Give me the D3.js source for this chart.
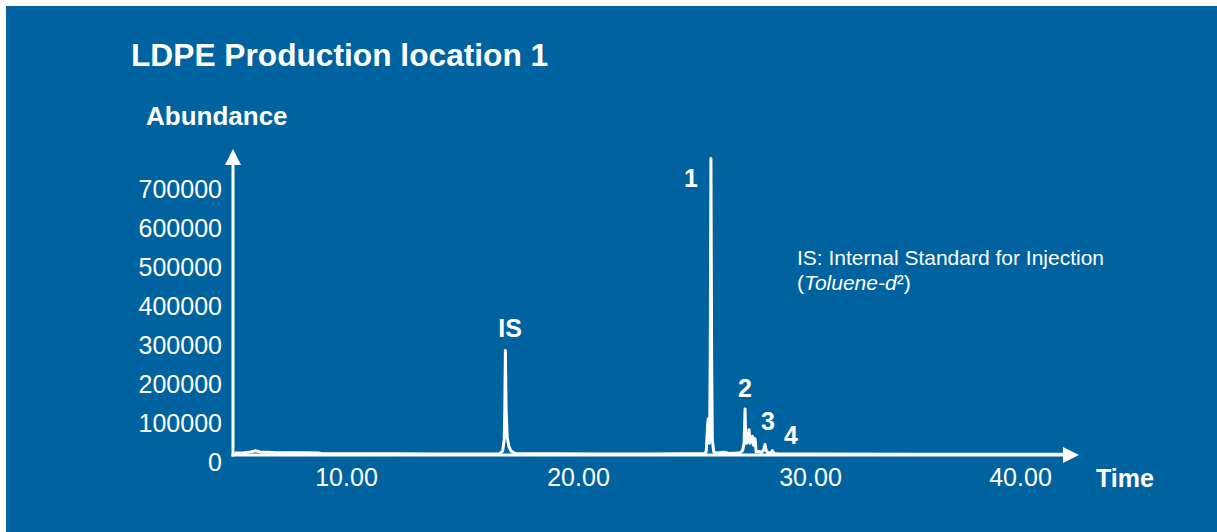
<!DOCTYPE html>
<html>
<head>
<meta charset="utf-8">
<script src="https://cdn.jsdelivr.net/npm/d3@7"></script>
<style>
  html, body { margin: 0; padding: 0; background: #ffffff; }
  svg { display: block; }
  text { font-family: "Liberation Sans", Arial, sans-serif; fill: #ffffff; }
</style>
</head>
<body>
<svg id="chart" width="1217" height="532"></svg>
<script>
// ---- data ----
const times = [5.26, 5.6, 5.9, 6.1, 6.3, 6.6, 7.0, 8.0, 8.8, 9.0, 10, 12, 14, 16, 16.6, 16.75, 16.82, 16.845, 16.87, 16.9, 16.95, 17.02, 17.12, 17.3, 17.6, 19, 21, 23, 24.5, 25.45, 25.53, 25.58, 25.61, 25.64, 25.67, 25.7, 25.73, 25.76, 25.79, 25.85, 26.0, 26.3, 26.5, 26.8, 27.0, 27.1, 27.16, 27.2, 27.23, 27.28, 27.37, 27.42, 27.47, 27.52, 27.57, 27.63, 27.68, 27.8, 27.9, 28.0, 28.06, 28.11, 28.2, 28.3, 28.38, 28.45, 28.6, 30, 35, 41];
const abundance = [5000, 6000, 8000, 11000, 8000, 7000, 6000, 5500, 5000, 3500, 3000, 3000, 2500, 2500, 3000, 10000, 40000, 120000, 268000, 120000, 45000, 22000, 10000, 4000, 3000, 3000, 2500, 2500, 3000, 3000, 10000, 70000, 92000, 85000, 30000, 250000, 760000, 250000, 40000, 8000, 5000, 7000, 4000, 5000, 6000, 12000, 30000, 118000, 40000, 30000, 65000, 30000, 35000, 48000, 25000, 42000, 8000, 9000, 7000, 12000, 27000, 12000, 5000, 6000, 11000, 4000, 3000, 2500, 2000, 2000];
const yTicks = [0, 100000, 200000, 300000, 400000, 500000, 600000, 700000];
const xTicks = [10, 20, 30, 40];
const peakNames = ["IS", "1", "2", "3", "4"];

const svg = d3.select("#chart");
const W = 1217, H = 532;
const BG = "#0063a0";

svg.append("rect").attr("x", 6).attr("y", 6).attr("width", W - 6).attr("height", H - 6).attr("fill", BG);

const x = d3.scaleLinear().domain([10, 40]).range([346, 1042]);
const y = d3.scaleLinear().domain([0, 700000]).range([455, 182]);

const axisX0 = 233, axisY0 = 455;

// axes lines with arrows
svg.append("line").attr("x1", axisX0).attr("y1", axisY0 + 1.5).attr("x2", axisX0).attr("y2", 163)
  .attr("stroke", "#fff").attr("stroke-width", 3);
svg.append("path").attr("d", `M${axisX0 - 8},165 L${axisX0},149 L${axisX0 + 8},165 Z`).attr("fill", "#fff");
svg.append("line").attr("x1", axisX0 - 1.5).attr("y1", axisY0).attr("x2", 1065).attr("y2", axisY0)
  .attr("stroke", "#fff").attr("stroke-width", 3);
svg.append("path").attr("d", `M1063,${axisY0 - 8} L1079,${axisY0} L1063,${axisY0 + 8} Z`).attr("fill", "#fff");

// y tick labels
const gy = svg.append("g").attr("transform", `translate(${axisX0},0)`)
  .call(d3.axisLeft(y).tickValues(yTicks).tickSize(0).tickPadding(11).tickFormat(d3.format("d")));
gy.select(".domain").remove();
gy.selectAll("text").attr("fill", "#fff").attr("y", 7.5)
  .style("font-family", "'Liberation Sans', Arial, sans-serif").style("font-size", "25px");

// x tick labels
const gx = svg.append("g").attr("transform", `translate(0,${axisY0})`)
  .call(d3.axisBottom(x).tickValues(xTicks).tickSize(0).tickPadding(13).tickFormat(d3.format(".2f")));
gx.select(".domain").remove();
gx.selectAll("text").attr("fill", "#fff")
  .attr("x", (d, i) => i === xTicks.length - 1 ? -22 : 0)
  .style("font-family", "'Liberation Sans', Arial, sans-serif").style("font-size", "25px");

// chromatogram trace
const pts = times.map((t, i) => [t, abundance[i]]);
const line = d3.line().x(d => x(d[0])).y(d => y(d[1]));
svg.append("path").datum(pts).attr("d", line)
  .attr("fill", "none").attr("stroke", "#fff").attr("stroke-width", 3)
  .attr("stroke-linejoin", "round").attr("stroke-linecap", "round");

// titles
svg.append("text").attr("x", 131).attr("y", 66).style("font-size", "31.7px").style("font-weight", "bold")
  .text("LDPE Production location 1");
svg.append("text").attr("x", 146).attr("y", 125).style("font-size", "26px").style("font-weight", "bold")
  .text("Abundance");
svg.append("text").attr("x", 1096).attr("y", 487).style("font-size", "25px").style("font-weight", "bold")
  .text("Time");

// peak labels
const peakLabelPos = [[510, 337], [691, 187], [745, 397], [768, 430], [791, 444]];
svg.selectAll("text.peak").data(peakNames).enter().append("text").attr("class", "peak")
  .attr("x", (d, i) => peakLabelPos[i][0]).attr("y", (d, i) => peakLabelPos[i][1])
  .attr("text-anchor", "middle").style("font-size", "25px").style("font-weight", "bold")
  .text(d => d);

// annotation
svg.append("text").attr("x", 797).attr("y", 265).style("font-size", "21px")
  .text("IS: Internal Standard for Injection");
const t2 = svg.append("text").attr("x", 797).attr("y", 290).style("font-size", "21px");
t2.append("tspan").text("(");
t2.append("tspan").style("font-style", "italic").text("Toluene-d");
t2.append("tspan").text("²)");
</script>
</body>
</html>
